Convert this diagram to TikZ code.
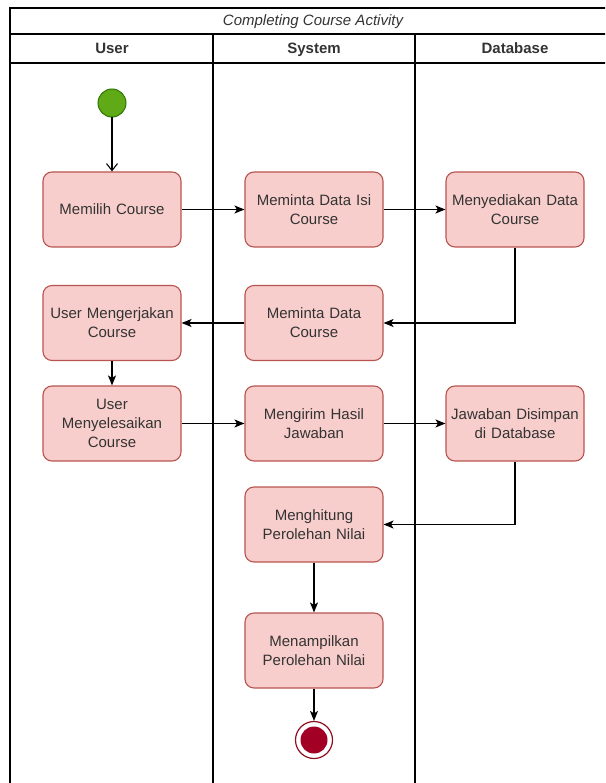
\documentclass[tikz,border=0pt]{standalone}
\usepackage{fontspec}
\setmainfont{Liberation Sans}
\usetikzlibrary{arrows.meta}
\definecolor{actfill}{HTML}{F8CECC}
\definecolor{actline}{HTML}{B85450}
\definecolor{startfill}{HTML}{60A917}
\definecolor{startline}{HTML}{2D7600}
\definecolor{endfill}{HTML}{A20025}
\definecolor{endline}{HTML}{8F0F22}
\definecolor{txt}{HTML}{333333}
\tikzset{
  action/.style={draw=actline, fill=actfill, line width=1.1pt, rounded corners=9pt,
    minimum width=138pt, minimum height=75pt, text width=132pt, align=center,
    font=\fontsize{15}{19}\selectfont, text=txt, inner sep=0pt},
  lane/.style={line width=1.2pt, draw=black},
  flow/.style={line width=1.1pt, -{Stealth[length=10pt,width=8pt,inset=2.5pt]}},
  openflow/.style={line width=1.1pt, -{Straight Barb[length=7pt,width=11pt]}},
  header/.style={font=\fontsize{15}{18}\selectfont\bfseries, text=txt, anchor=base, inner sep=0pt},
}
\begin{document}
\begin{tikzpicture}[x=1pt,y=-1pt]
\useasboundingbox (0,0) rectangle (605,783);
\clip (0,0) rectangle (605,783);

% pool frame and swimlanes
\draw[lane] (10,800) -- (10,8) -- (630,8);
\draw[lane] (10,34) -- (630,34);
\draw[lane] (10,63) -- (630,63);
\draw[lane] (213,34) -- (213,800);
\draw[lane] (415,34) -- (415,800);
\draw[lane] (617,8) -- (617,800);

\node[font=\fontsize{15}{18}\selectfont\itshape, text=txt, anchor=base, inner sep=0pt] (title) at (313,26) {Completing Course Activity};
\node[header] (huser) at (112,54) {User};
\node[header] (hsys) at (314,54) {System};
\node[header] (hdb) at (515,54) {Database};

% initial and final states
\node[circle, draw=startline, fill=startfill, line width=1pt, minimum size=28pt, inner sep=0pt] (start) at (112,103) {};
\node[circle, draw=endline, fill=white, line width=1.2pt, minimum size=37pt, inner sep=0pt] (stop) at (314,740) {};
\node[circle, fill=endfill, minimum size=27pt, inner sep=0pt] (stopin) at (314,740) {};

% activities
\node[action] (pilih) at (112,209.5) {Memilih Course};
\node[action] (mintaisi) at (314,209.5) {Meminta Data Isi\\Course};
\node[action] (sedia) at (515,209.5) {Menyediakan Data\\Course};
\node[action] (kerja) at (112,323) {User Mengerjakan\\Course};
\node[action] (minta) at (314,323) {Meminta Data\\Course};
\node[action] (selesai) at (112,423.5) {User\\Menyelesaikan\\Course};
\node[action] (kirim) at (314,423.5) {Mengirim Hasil\\Jawaban};
\node[action] (simpan) at (515,423.5) {Jawaban Disimpan\\di Database};
\node[action] (hitung) at (314,524.5) {Menghitung\\Perolehan Nilai};
\node[action] (tampil) at (314,650.5) {Menampilkan\\Perolehan Nilai};

% control flow
\draw[openflow] (start) -- (pilih);
\draw[flow] (pilih) -- (mintaisi);
\draw[flow] (mintaisi) -- (sedia);
\draw[flow] (sedia.south) |- (minta.east);
\draw[flow] (minta) -- (kerja);
\draw[flow] (kerja) -- (selesai);
\draw[flow] (selesai) -- (kirim);
\draw[flow] (kirim) -- (simpan);
\draw[flow] (simpan.south) |- (hitung.east);
\draw[flow] (hitung) -- (tampil);
\draw[flow] (tampil) -- (stop);
\end{tikzpicture}
\end{document}
